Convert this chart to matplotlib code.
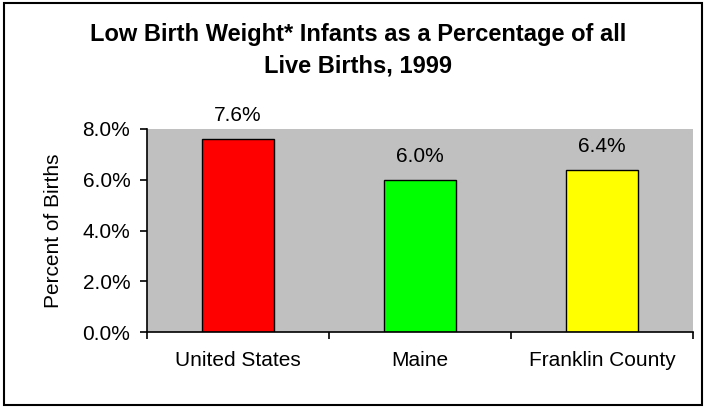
import matplotlib.pyplot as plt
from matplotlib.patches import Rectangle
from matplotlib.ticker import FuncFormatter, FixedLocator

plt.rcParams['font.family'] = ['Liberation Sans', 'DejaVu Sans']

regions = ["United States", "Maine", "Franklin County"]
pct_low_birth_weight = [7.6, 6.0, 6.4]
bar_colors = ["#FF0000", "#00FF00", "#FFFF00"]

W, H = 705, 408
fig = plt.figure(figsize=(W / 100, H / 100), dpi=100)

# outer border
fig.patches.append(Rectangle((4 / W, 3 / H), 698 / W, 402 / H, transform=fig.transFigure,
                             fill=False, edgecolor="black", linewidth=1.5))

ax = fig.add_axes([147 / W, 1 - 332 / H, 546 / W, 203 / H])
ax.set_facecolor("#C0C0C0")

x = range(len(regions))
ax.bar(x, pct_low_birth_weight, width=0.4, color=bar_colors, edgecolor="black", linewidth=1)
for i, v in enumerate(pct_low_birth_weight):
    ax.annotate(f"{v:.1f}%", (i, v), xytext=(0, 13), textcoords="offset points",
                ha="center", va="baseline", fontsize=15)

ax.set_xlim(-0.5, 2.5)
ax.set_ylim(0, 8)
ax.set_yticks([0, 2, 4, 6, 8])
ax.yaxis.set_major_formatter(FuncFormatter(lambda v, p: f"{v:.1f}%"))
ax.set_xticks(list(x))
ax.set_xticklabels(regions, fontsize=15)
ax.tick_params(axis="x", length=0, pad=14)
ax.xaxis.set_minor_locator(FixedLocator([-0.5, 0.5, 1.5, 2.5]))
ax.tick_params(axis="x", which="minor", length=5, width=1.2, direction="out")
ax.tick_params(axis="y", length=5, width=1.2, direction="out", labelsize=15, pad=7)

for side in ["top", "right"]:
    ax.spines[side].set_visible(False)
for side in ["left", "bottom"]:
    ax.spines[side].set_linewidth(1.2)

ax.set_ylabel("Percent of Births", fontsize=15, va="center")
ax.yaxis.set_label_coords(-0.172, 0.5)

fig.text(358 / W, 1 - 41 / H, "Low Birth Weight* Infants as a Percentage of all",
         ha="center", va="baseline", fontsize=17, fontweight="bold")
fig.text(358 / W, 1 - 73 / H, "Live Births, 1999",
         ha="center", va="baseline", fontsize=17, fontweight="bold")

fig.savefig("out.png", dpi=100)
